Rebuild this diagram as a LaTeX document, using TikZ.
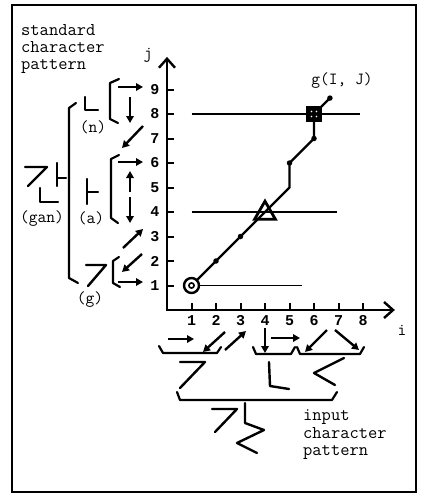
\documentclass[tikz,border=0pt]{standalone}
\usepackage{fontspec}
\usetikzlibrary{arrows.meta,shapes.geometric,calc}
\newfontfamily\monof{Liberation Mono}
\newcommand{\typew}{\ttfamily\addfontfeature{FakeBold=0.7}}
\begin{document}
\begin{tikzpicture}[x=1pt,y=-1pt,
  stroke/.style={line width=2.4pt, line cap=round, line join=round},
  arr/.style={line width=2.4pt, -{Triangle[length=7pt,width=7.5pt]}},
  brk/.style={line width=2.2pt, line join=round, line cap=round},
  lbl/.style={font=\typew\fontsize{17}{17}\selectfont, inner sep=0},
  num/.style={font=\monof\bfseries\fontsize{15}{15}\selectfont, inner sep=0},
  txt/.style={font=\typew\fontsize{18}{17}\selectfont, align=left, inner sep=0},
  tick/.style={line width=2pt},
  hline/.style={line width=1.4pt},
  dot/.style={circle, fill=black, inner sep=0, minimum size=5.5pt},
  ]
\useasboundingbox (0,0) rectangle (424,496);
\draw[line width=2.5pt] (12,5) rectangle (416,492);

% ---------- plot ----------
\begin{scope}[shift={(167,310)}, x=24.5pt, y=24.5pt]
  \coordinate (O) at (0,0);
  \coordinate (ytip) at (0,10.33);
  \coordinate (xtip) at (9.3,0);
  \draw[line width=2.4pt, line join=miter,
        {Straight Barb[length=9pt,width=16pt]}-{Straight Barb[length=9pt,width=16pt]}]
        (ytip) -- (O) -- (xtip);
  \foreach \k in {1,...,9} {
    \draw[tick] (0,\k) -- ++(7pt,0);
    \node[num] (j\k) at (-0.49,\k) {\k};
  }
  \foreach \k in {1,...,8} {
    \draw[tick] (\k,0) -- ++(0,7pt);
    \node[num] (i\k) at (\k,-0.42) {\k};
  }
  % path points
  \coordinate (p1) at (1,1);
  \coordinate (p2) at (2,2);
  \coordinate (p3) at (3,3);
  \coordinate (p4) at (4,4);
  \coordinate (p5) at (5,5);
  \coordinate (p6) at (5,6);
  \coordinate (p7) at (6,7);
  \coordinate (p8) at (6,8);
  \coordinate (p9) at (6.65,8.65);
  \coordinate (h1) at (5.51,1);
  \coordinate (h4) at (6.94,4);
  \coordinate (h8) at (7.88,8);
  \draw[hline] (p1) -- (h1);
  \draw[hline] (1,4) -- (h4);
  \draw[hline] (1,8) -- (h8);
  \draw[line width=2.2pt, line join=round] (p1) -- (p2) -- (p3) -- (p4) -- (p5) -- (p6) -- (p7) -- (p8) -- (p9);
  \foreach \p in {p2,p3,p6,p7,p9} { \node[dot] at (\p) {}; }
  \node[circle, draw, fill=white, line width=2.4pt, minimum size=15pt, inner sep=0] (m1) at (p1) {};
  \draw[line width=1.6pt] (m1.center) circle (2.6pt);
  \node[regular polygon, regular polygon sides=3, draw, line width=2.8pt,
        minimum size=24pt, inner sep=0] (m4) at (4,3.95) {};
  \node[rectangle, draw, fill=black, line width=1.5pt, minimum size=14pt, inner sep=0] (m8) at (p8) {};
  \foreach \dx/\dy in {-2.5/-2.5, 2.5/-2.5, -2.5/2.5, 2.5/2.5} {
    \fill[white] ($(m8.center)+(\dx pt,\dy pt)$) circle (0.9pt);
  }
  \node[lbl] (gIJ) at (7.14,9.35) {g(I, J)};
\end{scope}

% ---------- texts ----------
\node[txt, anchor=west] (std) at (21,48.5) {standard\\character\\pattern};
\node[txt, anchor=west, font=\typew\fontsize{18}{17.5}\selectfont] (inp) at (303,435) {input\\character\\pattern};
\node[lbl] (jl) at (148,55) {j};
\node[lbl] (il) at (402,330) {i};
\node[lbl] (nl) at (93,127) {(n)};
\node[lbl] (al) at (91,218) {(a)};
\node[lbl] (ganl) at (42,219) {(gan)};
\node[lbl] (gl) at (90,300) {(g)};

% ---------- left: standard pattern ----------
% gan glyph
\draw[stroke] (25,167) -- (47,167) -- (28,186);
\draw[stroke] (57,163) -- (57,186);
\draw[stroke] (57,178) -- (66,178);
\draw[stroke] (40,188) -- (40,202) -- (58,202);
% big bracket
\draw[brk] (76,103) -- (69,108) -- (69,278) -- (78,283);
% n glyph
\draw[stroke] (85,97) -- (85,110) -- (98,110);
% a glyph
\draw[stroke] (87,179) -- (87,204);
\draw[stroke] (87,192) -- (98,192);
% g glyph
\draw[stroke] (86,265) -- (106,265) -- (88,286);
% small brackets
\draw[brk] (119,79) -- (110,83) -- (110,119) -- (118,123);
\draw[brk] (119,155) -- (111,159) -- (111,218) -- (118,223);
\draw[brk] (119,257) -- (113,261) -- (113,283) -- (120,287);
% arrows
\coordinate (a9s) at (118,87);  \coordinate (a9e) at (143,87);
\draw[arr] (a9s) -- (a9e);
\coordinate (d8s) at (130,97);  \coordinate (d8e) at (130,123);
\draw[arr] (d8s) -- (d8e);
\coordinate (q7s) at (143,126); \coordinate (q7e) at (122,148);
\draw[arr] (q7s) -- (q7e);
\coordinate (a6s) at (118,162); \coordinate (a6e) at (143,162);
\draw[arr] (a6s) -- (a6e);
\coordinate (u5s) at (130,192); \coordinate (u5e) at (130,171);
\draw[arr] (u5s) -- (u5e);
\coordinate (d4s) at (130,197); \coordinate (d4e) at (130,223);
\draw[arr] (d4s) -- (d4e);
\coordinate (q3s) at (123,248); \coordinate (q3e) at (143,229);
\draw[arr] (q3s) -- (q3e);
\coordinate (q2s) at (142,254); \coordinate (q2e) at (122,272);
\draw[arr] (q2s) -- (q2e);
\coordinate (a1s) at (118,282); \coordinate (a1e) at (143,282);
\draw[arr] (a1s) -- (a1e);

% ---------- bottom: input pattern ----------
\coordinate (b1s) at (168,339); \coordinate (b1e) at (194,339);
\draw[arr] (b1s) -- (b1e);
\coordinate (b2s) at (225,332); \coordinate (b2e) at (203,352);
\draw[arr] (b2s) -- (b2e);
\coordinate (b3s) at (225,350); \coordinate (b3e) at (246,331);
\draw[arr] (b3s) -- (b3e);
\coordinate (b4s) at (265,328); \coordinate (b4e) at (265,353);
\draw[arr] (b4s) -- (b4e);
\coordinate (b5s) at (271,338); \coordinate (b5e) at (300,338);
\draw[arr] (b5s) -- (b5e);
\coordinate (b6s) at (327,330); \coordinate (b6e) at (305,352);
\draw[arr] (b6s) -- (b6e);
\coordinate (b7s) at (335,330); \coordinate (b7e) at (359,350);
\draw[arr] (b7s) -- (b7e);
% brackets
\draw[brk] (159,346) -- (163,353) -- (217,353) -- (221,347);
\draw[brk] (253,347) -- (256,354) -- (291,354) -- (295,347);
\draw[brk] (297,347) -- (300,354) -- (360,354) -- (364,347);
\draw[brk] (177,392) -- (180,400) -- (332,400) -- (337,392);
% glyphs
\draw[stroke] (180,362) -- (205,362) -- (180,388);
\draw[stroke] (269,362) -- (270,386) -- (289,389);
\draw[stroke] (344,358) -- (314,373) -- (335,385);
\draw[stroke] (212,409) -- (237,409) -- (215,432);
\draw[stroke] (245,403) -- (245,423) -- (264,430) -- (237,443) -- (257,453);
\end{tikzpicture}
\end{document}
